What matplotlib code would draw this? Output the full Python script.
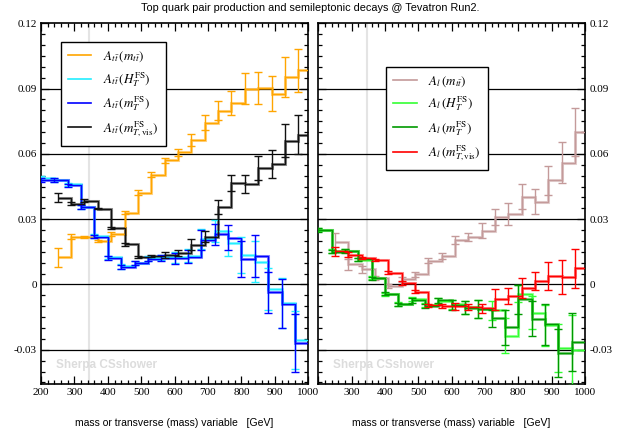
import numpy as np
import matplotlib
matplotlib.use("Agg")
import matplotlib.pyplot as plt
from matplotlib.ticker import MultipleLocator, FixedLocator

plt.rcParams['mathtext.fontset'] = 'stix'

# ---------------- data ----------------
bins_from_200 = [200, 240, 280, 320, 360, 400, 440, 480, 520, 560,
                 600, 640, 680, 720, 760, 800, 840, 880, 920, 960]
bins_from_250 = [250, 290, 330, 370, 410, 450, 490, 530, 570, 610,
                 650, 690, 730, 770, 810, 850, 890, 930, 970]
x_max = 1000

# left panel: A_ttbar
att_mtt = [0.0124, 0.0220, 0.0218, 0.0201, 0.0233, 0.0330, 0.0422, 0.0505, 0.0570, 0.0607,
           0.0665, 0.0744, 0.0798, 0.0833, 0.0900, 0.0902, 0.0876, 0.0952, 0.0984]
att_mtt_err = [0.0043, 0.0011, 0.0005, 0.0005, 0.0010, 0.0007, 0.0011, 0.0010, 0.0011, 0.0015,
               0.0027, 0.0034, 0.0043, 0.0055, 0.0070, 0.0074, 0.0080, 0.0091, 0.0100]

att_ht = [0.0490, 0.0482, 0.0460, 0.0358, 0.0222, 0.0124, 0.0083, 0.0100, 0.0120, 0.0124,
          0.0125, 0.0132, 0.0210, 0.0245, 0.0190, 0.0135, 0.0105, -0.0020, -0.0085, -0.0255]
att_ht_err = [0.0008, 0.0009, 0.0008, 0.0009, 0.0008, 0.0008, 0.0010, 0.0009, 0.0010, 0.0013,
              0.0025, 0.0030, 0.0045, 0.0050, 0.0057, 0.0083, 0.0095, 0.0095, 0.0114, 0.0133]

att_mt = [0.0481, 0.0478, 0.0455, 0.0356, 0.0220, 0.0121, 0.0080, 0.0098, 0.0117, 0.0121,
          0.0120, 0.0128, 0.0204, 0.0230, 0.0215, 0.0117, 0.0131, -0.0036, -0.0088, -0.0270]
att_mt_err = [0.0008, 0.0009, 0.0008, 0.0009, 0.0008, 0.0008, 0.0010, 0.0009, 0.0010, 0.0013,
              0.0025, 0.0030, 0.0045, 0.0050, 0.0057, 0.0083, 0.0095, 0.0095, 0.0114, 0.0133]

att_mtvis = [0.0399, 0.0371, 0.0385, 0.0349, 0.0259, 0.0184, 0.0127, 0.0131, 0.0134, 0.0144,
             0.0183, 0.0220, 0.0356, 0.0467, 0.0462, 0.0535, 0.0554, 0.0660, 0.0689]
att_mtvis_err = [0.0020, 0.0008, 0.0006, 0.0004, 0.0006, 0.0005, 0.0005, 0.0006, 0.0013, 0.0015,
                 0.0024, 0.0027, 0.0030, 0.0038, 0.0043, 0.0057, 0.0065, 0.0076, 0.0090]

# right panel: A_l
al_mtt = [0.0195, 0.0092, 0.0070, 0.0030, -0.0008, 0.0024, 0.0047, 0.0110, 0.0130, 0.0205,
          0.0217, 0.0247, 0.0311, 0.0323, 0.0403, 0.0380, 0.0478, 0.0560, 0.0700]
al_mtt_err = [0.0040, 0.0025, 0.0015, 0.0010, 0.0008, 0.0011, 0.0011, 0.0012, 0.0015, 0.0019,
              0.0019, 0.0034, 0.0038, 0.0050, 0.0057, 0.0058, 0.0066, 0.0095, 0.0110]

al_ht = [0.0252, 0.0153, 0.0156, 0.0114, 0.0031, -0.0046, -0.0090, -0.0066, -0.0095, -0.0076,
         -0.0092, -0.0104, -0.0112, -0.0119, -0.0235, -0.0042, -0.0130, -0.0188, -0.0290, -0.0300]
al_ht_err = [0.0008, 0.0008, 0.0008, 0.0007, 0.0007, 0.0008, 0.0008, 0.0008, 0.0009, 0.0012,
             0.0020, 0.0030, 0.0040, 0.0045, 0.0080, 0.0040, 0.0075, 0.0095, 0.0110, 0.0160]

al_mt = [0.0250, 0.0151, 0.0153, 0.0116, 0.0028, -0.0042, -0.0092, -0.0072, -0.0101, -0.0072,
         -0.0095, -0.0107, -0.0112, -0.0155, -0.0196, -0.0069, -0.0158, -0.0183, -0.0316, -0.0264]
al_mt_err = [0.0008, 0.0008, 0.0008, 0.0007, 0.0007, 0.0008, 0.0008, 0.0012, 0.0009, 0.0012,
             0.0022, 0.0030, 0.0040, 0.0040, 0.0080, 0.0068, 0.0080, 0.0095, 0.0110, 0.0135]

al_mtvis = [0.0153, 0.0137, 0.0122, 0.0111, 0.0055, 0.0007, -0.0033, -0.0095, -0.0100, -0.0101,
            -0.0103, -0.0110, -0.0069, -0.0054, -0.0016, 0.0015, 0.0038, 0.0036, 0.0074]
al_mtvis_err = [0.0020, 0.0010, 0.0006, 0.0005, 0.0005, 0.0008, 0.0006, 0.0007, 0.0008, 0.0014,
                0.0015, 0.0019, 0.0047, 0.0038, 0.0046, 0.0041, 0.0064, 0.0078, 0.0089]

y_ticks = [-0.03, 0, 0.03, 0.06, 0.09, 0.12]
y_tick_labels = ["-0.03", "0", "0.03", "0.06", "0.09", "0.12"]
x_ticks = [200, 300, 400, 500, 600, 700, 800, 900, 1000]
x_tick_labels_left = ["200", "300", "400", "500", "600", "700", "800", "900", "1000"]
x_tick_labels_right = ["", "300", "400", "500", "600", "700", "800", "900", "1000"]
ttbar_threshold = 345

title = "Top quark pair production and semileptonic decays @ Tevatron Run2."
xlabel = "mass or transverse (mass) variable   [GeV]"
watermark = "Sherpa CSshower"

left_series = [
    (bins_from_250, att_mtt, att_mtt_err, "#ffa500", r"$A_{t\bar{t}}\,(m_{t\bar{t}})$"),
    (bins_from_200, att_ht, att_ht_err, "#22eeff", r"$A_{t\bar{t}}\,(H_T^{\rm FS})$"),
    (bins_from_200, att_mt, att_mt_err, "#0000ff", r"$A_{t\bar{t}}\,(m_T^{\rm FS})$"),
    (bins_from_250, att_mtvis, att_mtvis_err, "#111111", r"$A_{t\bar{t}}\,(m_{T,\rm vis}^{\rm FS})$"),
]
right_series = [
    (bins_from_250, al_mtt, al_mtt_err, "#c49a9a", r"$A_l\,(m_{t\bar{t}})$"),
    (bins_from_200, al_ht, al_ht_err, "#33ff33", r"$A_l\,(H_T^{\rm FS})$"),
    (bins_from_200, al_mt, al_mt_err, "#009900", r"$A_l\,(m_T^{\rm FS})$"),
    (bins_from_250, al_mtvis, al_mtvis_err, "#ff0000", r"$A_l\,(m_{T,\rm vis}^{\rm FS})$"),
]

# ---------------- figure ----------------
fig = plt.figure(figsize=(6.19, 4.32), dpi=100)
W, H = 619, 432
ax_l = fig.add_axes([41 / W, 1 - 383.5 / H, (308.3 - 41) / W, (383.5 - 23.3) / H])
ax_r = fig.add_axes([318.3 / W, 1 - 383.5 / H, (585 - 318.3) / W, (383.5 - 23.3) / H])

tick_font = dict(family="Liberation Serif", size=8)


def draw_panel(ax, series, label_right, legend_box, xlabels):
    ax.set_xlim(200, x_max)
    ax.set_ylim(-0.0455, 0.12)
    for yv in y_ticks[:-1]:
        ax.axhline(yv, color="black", lw=0.9, zorder=1)
    ax.axvline(ttbar_threshold, color="#e4e4e4", lw=1.5, zorder=0.5)
    handles = []
    for bins, vals, errs, col, lab in series:
        edges = list(bins) + [x_max]
        ax.stairs(vals, edges, baseline=None, color=col, lw=2.2, alpha=0.45, zorder=2)
        ax.stairs(vals, edges, baseline=None, color=col, lw=1.0, zorder=3)
        ax.errorbar(bins, vals, yerr=errs, fmt="none", ecolor=col, elinewidth=1.0,
                    capsize=3.2, capthick=1.0, zorder=3)
        h, = ax.plot([], [], color=col, lw=1.2, label=lab)
        handles.append(h)
    ax.text(245, -0.0368, watermark, color="#dcdcdc", fontsize=8.5, fontweight="bold",
            family="Liberation Sans", va="center", ha="left", zorder=1.5)

    ax.xaxis.set_major_locator(FixedLocator(x_ticks))
    ax.xaxis.set_minor_locator(MultipleLocator(20))
    ax.yaxis.set_major_locator(FixedLocator(y_ticks))
    ax.yaxis.set_minor_locator(MultipleLocator(0.005))
    ax.set_xticklabels(xlabels, **tick_font)
    ax.set_yticklabels(y_tick_labels, **tick_font)
    ax.tick_params(which="both", direction="in", top=True, bottom=True, left=True, right=True,
                   labelleft=not label_right, labelright=label_right, width=0.9)
    ax.tick_params(which="major", length=6, pad=3)
    ax.tick_params(which="minor", length=3)
    for sp in ax.spines.values():
        sp.set_linewidth(1.2)
    ax.set_xlabel(xlabel, family="Liberation Sans", fontsize=7.5, labelpad=15)

    leg = ax.legend(handles=handles, loc="upper left", bbox_to_anchor=legend_box,
                    frameon=True, fancybox=False, framealpha=1.0, edgecolor="black",
                    fontsize=9.4, handlelength=1.8, handletextpad=0.9, labelspacing=0.45,
                    borderpad=0.55, borderaxespad=0)
    leg.get_frame().set_linewidth(1.0)
    leg.set_zorder(10)


draw_panel(ax_l, left_series, False, ((60.7 - 41) / (308.3 - 41), 1 - (42.3 - 23.3) / 360.2),
           x_tick_labels_left)
draw_panel(ax_r, right_series, True, ((386 - 318.3) / (585 - 318.3), 1 - (66.7 - 23.3) / 360.2),
           x_tick_labels_right)

fig.text(310 / W, 1 - 8 / H, title, ha="center", va="center", fontsize=7.8,
         family="Liberation Sans")

fig.savefig("out.png", dpi=100)
